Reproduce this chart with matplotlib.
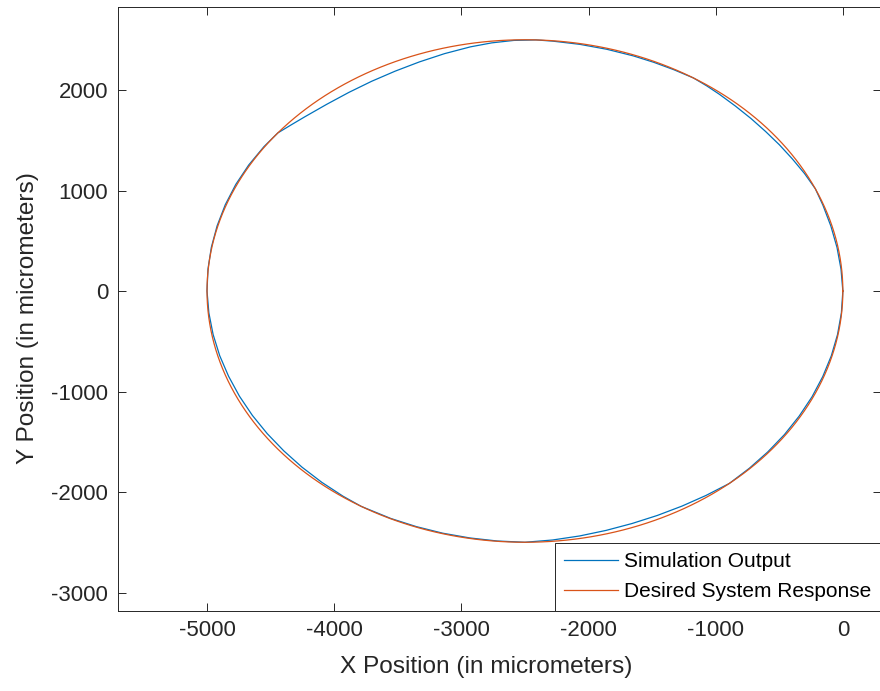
import numpy as np
import matplotlib
matplotlib.use('Agg')
import matplotlib.pyplot as plt

# desired response: circle of the commanded path
CENTER_X = -2500
CENTER_Y = 0
RADIUS = 2500

# simulation output in polar form around the circle centre
# (angle in degrees, distance from centre in micrometers)
SIM_ANGLE = [0, 5, 10, 15, 20, 24, 28, 32, 36, 40, 44, 48, 52, 55, 58,
             62, 66, 70, 75, 80, 85, 88, 92, 96, 100, 105, 110, 115, 120,
             125, 130, 135, 138, 141, 145, 150, 155, 160, 165, 170, 175, 180,
             185, 190, 195, 200, 205, 210, 215, 220, 225, 230, 235, 239,
             245, 250, 255, 260, 265, 270, 275, 280, 285, 290, 295, 300,
             305, 310, 315, 320, 325, 330, 335, 340, 345, 350, 355, 360]
SIM_RADIUS = [2500, 2495, 2492, 2491, 2494, 2500, 2490, 2480, 2474, 2470,
              2471, 2475, 2484, 2492, 2500, 2494, 2491, 2490, 2490, 2492,
              2496, 2500, 2495, 2483, 2467, 2445, 2426, 2414, 2410, 2413,
              2425, 2450, 2472, 2500, 2505, 2508, 2509, 2508, 2506, 2504,
              2502, 2500, 2495, 2490, 2485, 2480, 2477, 2475, 2474, 2475,
              2479, 2485, 2493, 2500, 2497, 2495, 2495, 2495, 2497, 2500,
              2487, 2475, 2466, 2462, 2464, 2471, 2483, 2500, 2495, 2492,
              2491, 2490, 2491, 2492, 2494, 2496, 2498, 2500]

X_TICKS = [-5000, -4000, -3000, -2000, -1000, 0]
Y_TICKS = [-3000, -2000, -1000, 0, 1000, 2000]

BLUE = '#0072BD'
ORANGE = '#D95319'
AX_COLOR = '#262626'

plt.rcParams['font.family'] = ['Liberation Sans', 'DejaVu Sans']
plt.rcParams['axes.unicode_minus'] = False

ang = np.deg2rad(SIM_ANGLE)
sim_x = CENTER_X + np.array(SIM_RADIUS) * np.cos(ang)
sim_y = CENTER_Y + np.array(SIM_RADIUS) * np.sin(ang)

theta = np.linspace(0, 2 * np.pi, 721)
des_x = CENTER_X + RADIUS * np.cos(theta)
des_y = CENTER_Y + RADIUS * np.sin(theta)

fig = plt.figure(figsize=(8.8, 6.91), dpi=100)
ax = fig.add_axes([118 / 880, 80.3 / 691, 763 / 880, 603.7 / 691])

ax.plot(sim_x, sim_y, color=BLUE, lw=0.9, label='Simulation Output')
ax.plot(des_x, des_y, color=ORANGE, lw=0.9, label='Desired System Response')

ax.set_xlim(-5700, 300)
ax.set_ylim(-3181, 2826)
ax.set_xticks(X_TICKS)
ax.set_yticks(Y_TICKS)

ax.tick_params(direction='in', length=5.5, width=0.7, colors=AX_COLOR,
               labelsize=16, top=True, right=True, pad=7)
for s in ax.spines.values():
    s.set_color(AX_COLOR)
    s.set_linewidth(0.7)

ax.set_xlabel('X Position (in micrometers)', fontsize=17.6, color=AX_COLOR)
ax.set_ylabel('Y Position (in micrometers)', fontsize=17.6, color=AX_COLOR)
ax.xaxis.set_label_coords((486 - 118) / 763, -(667 - 610.7) / 603.7)
ax.yaxis.set_label_coords(-(118 - 28) / 763, (610.7 - 318) / 603.7)
ax.xaxis.label.set_va('center')
ax.yaxis.label.set_va('center')

leg = ax.legend(loc='lower right', bbox_to_anchor=(1, 0), borderaxespad=0,
                fontsize=15, handlelength=2.6, handletextpad=0.3,
                labelspacing=0.54, borderpad=0.45, fancybox=False,
                framealpha=1, edgecolor=AX_COLOR)
leg.get_frame().set_linewidth(0.7)

fig.savefig('out.png', dpi=100)
